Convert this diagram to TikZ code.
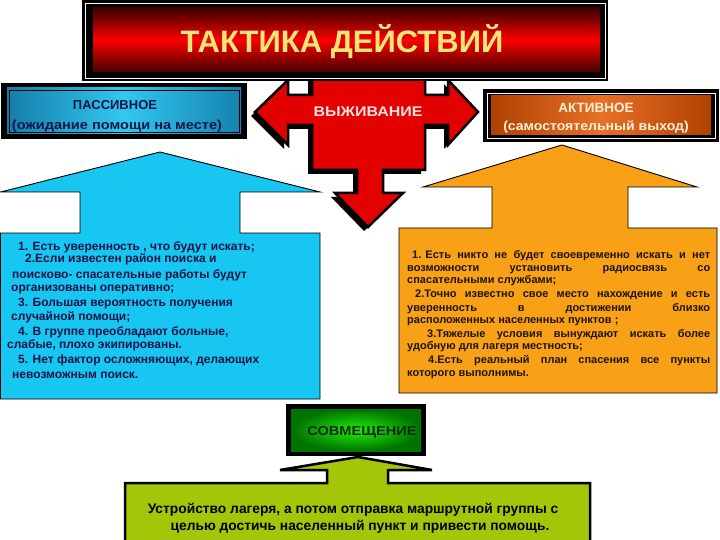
\documentclass[tikz,border=0pt]{standalone}
\usepackage{graphicx}
\usepackage{fontspec}
\setmainfont{Liberation Sans}
\definecolor{cyanf}{RGB}{24,198,242}
\definecolor{orangef}{RGB}{248,160,22}
\definecolor{limef}{RGB}{164,198,8}
\definecolor{redf}{RGB}{226,0,0}
\definecolor{titletxt}{RGB}{245,230,120}
\definecolor{navytxt}{RGB}{20,20,70}
\definecolor{darktxt}{RGB}{30,20,10}
\newcommand{\hs}[2]{\scalebox{#1}[1]{#2}}
\tikzset{
  flatarrow/.style={draw=black, line width=0.9pt, line join=miter},
  ltxt/.style={anchor=base west, inner sep=0pt, font=\fontsize{12}{14}\selectfont\bfseries, text=navytxt},
  otxt/.style={anchor=base west, inner sep=0pt, font=\fontsize{11}{13}\selectfont\bfseries, text=darktxt},
  btxt/.style={anchor=base, inner sep=0pt, font=\fontsize{13.8}{16}\selectfont\bfseries, text=black},
}
\begin{document}
\begin{tikzpicture}[x=1pt,y=-1pt]
\useasboundingbox (0,0) rectangle (720,540);
\fill[white] (0,0) rectangle (720,540);

% cyan arrow
\draw[flatarrow, fill=cyanf] (160,152) -- (320,192) -- (240,192) -- (240,233) -- (320,233) -- (320,399) -- (0.5,399) -- (0.5,233) -- (80,233) -- (80,192) -- (0.5,192) -- cycle;
% orange arrow
\draw[flatarrow, fill=orangef] (562,145) -- (697,187) -- (628,187) -- (628,228) -- (717,228) -- (717,393) -- (399,393) -- (399,228) -- (492,228) -- (492,187) -- (423,187) -- cycle;
% lime arrow
\draw[draw=black, line width=2.5pt, fill=limef] (358,457) -- (432,470) -- (388,470) -- (388,483) -- (590,483) -- (590,545) -- (125,545) -- (125,483) -- (327,483) -- (327,470) -- (280,470) -- cycle;

% green box
\fill[black] (286,404) rectangle (426,456);
\shade[inner color={rgb,255:red,30;green,240;blue,10}, outer color={rgb,255:red,0;green,115;blue,0}] (291,409) rectangle (421,451);
\node[inner sep=0pt, font=\fontsize{13}{15}\selectfont\bfseries, text={rgb,255:red,10;green,40;blue,10}] (sov) at (362,432) {\hs{1.12}{СОВМЕЩЕНИЕ}};

% passive box
\fill[black] (1,83) rectangle (247,139);
\shade[left color={rgb,255:red,20;green,125;blue,170}, right color={rgb,255:red,20;green,130;blue,175}, middle color={rgb,255:red,50;green,200;blue,240}] (7,88) rectangle (241,134);
\draw[black, line width=0.6pt] (9,90) rectangle (239,132);
\node[inner sep=0pt, font=\fontsize{13}{15}\selectfont\bfseries, text=navytxt] (pas1) at (115,105) {ПАССИВНОЕ};
\node[inner sep=0pt, font=\fontsize{13}{15}\selectfont\bfseries, text=navytxt] (pas2) at (117,126) {\hs{1.12}{(ожидание помощи на месте)}};

% active box
\fill[black] (483,89) rectangle (719,142);
\draw[white, line width=0.8pt] (487,93) rectangle (715,138);
\shade[left color={rgb,255:red,175;green,65;blue,0}, right color={rgb,255:red,175;green,65;blue,0}, middle color={rgb,255:red,232;green,112;blue,40}] (491,96) rectangle (711,135);
\node[inner sep=0pt, font=\fontsize{13.5}{15}\selectfont\bfseries, text={rgb,255:red,255;green,240;blue,215}] (act1) at (596,108) {АКТИВНОЕ};
\node[inner sep=0pt, font=\fontsize{13}{15}\selectfont\bfseries, text={rgb,255:red,255;green,240;blue,215}] (act2) at (596,127) {\hs{1.08}{(самостоятельный выход)}};

% central red arrow (shadow + body)
\begin{scope}[shift={(-4,4)}]
\fill[black] (312,75) -- (425,75) -- (425,95) -- (448,95) -- (448,80) -- (478,112) -- (448,145) -- (448,125) -- (425,125) -- (425,170) -- (383,170) -- (383,193) -- (403,193) -- (368,227) -- (335,193) -- (357,193) -- (357,170) -- (312,170) -- (312,125) -- (288,125) -- (288,145) -- (255,112) -- (288,80) -- (288,95) -- (312,95) -- cycle;
\end{scope}
\draw[draw=black, line width=2.5pt, fill=redf, line join=miter] (312,75) -- (425,75) -- (425,95) -- (448,95) -- (448,80) -- (478,112) -- (448,145) -- (448,125) -- (425,125) -- (425,170) -- (383,170) -- (383,193) -- (403,193) -- (368,227) -- (335,193) -- (357,193) -- (357,170) -- (312,170) -- (312,125) -- (288,125) -- (288,145) -- (255,112) -- (288,80) -- (288,95) -- (312,95) -- cycle;
\node[inner sep=0pt, font=\fontsize{14}{16}\selectfont\bfseries, text={rgb,255:red,255;green,225;blue,225}] (surv) at (368,112) {\hs{1.14}{ВЫЖИВАНИЕ}};

% title
\fill[black] (82,0) rectangle (608,81);
\draw[white, line width=0.8pt] (85.5,3) rectangle (605,78);
\shade[top color={rgb,255:red,60;green,0;blue,0}, bottom color={rgb,255:red,70;green,0;blue,0}, middle color={rgb,255:red,250;green,0;blue,0}] (93,8) rectangle (600,72);
\node[inner sep=0pt, font=\fontsize{31}{35}\selectfont\bfseries, text=titletxt] (title) at (342,42) {ТАКТИКА ДЕЙСТВИЙ};

% cyan texts
\node[ltxt] (c1) at (18,250.5) {1. Есть уверенность , что будут искать;};
\node[ltxt] (c2) at (25,262) {2.Если известен район поиска и};
\node[ltxt] (c3) at (12,278.5) {поисково- спасательные работы будут};
\node[ltxt] (c4) at (11,291.5) {организованы оперативно;};
\node[ltxt] (c5) at (18,306.5) {3. Большая вероятность получения};
\node[ltxt] (c6) at (11,320.5) {случайной помощи;};
\node[ltxt] (c7) at (18,335.5) {4. В группе преобладают больные,};
\node[ltxt] (c8) at (7,348.5) {слабые, плохо экипированы.};
\node[ltxt] (c9) at (18,363.5) {5. Нет фактор осложняющих, делающих};
\node[ltxt] (c10) at (12,378.5) {невозможным поиск.};

% orange texts
\node[otxt] (o1) at (412,258.5) {\makebox[298pt][s]{\mbox{1. Есть} никто не будет своевременно искать и нет}};
\node[otxt] (o2) at (407,271) {\makebox[303pt][s]{возможности установить радиосвязь со}};
\node[otxt] (o3) at (407,283) {спасательными службами;};
\node[otxt] (o4) at (415,297.5) {\makebox[295pt][s]{2.Точно известно свое место нахождение и есть}};
\node[otxt] (o5) at (407,311.5) {\makebox[303pt][s]{уверенность в достижении близко}};
\node[otxt] (o6) at (407,323.5) {расположенных населенных пунктов ;};
\node[otxt] (o7) at (427,337) {\makebox[283pt][s]{3.Тяжелые условия вынуждают искать более}};
\node[otxt] (o8) at (407,349) {удобную для лагеря местность;};
\node[otxt] (o9) at (428,363.5) {\makebox[282pt][s]{4.Есть реальный план спасения все пункты}};
\node[otxt] (o10) at (407,376) {которого выполнимы.};

% bottom texts
\node[btxt] (b1) at (353,513) {Устройство лагеря, а потом отправка маршрутной группы с};
\node[btxt] (b2) at (360,530) {целью достичь населенный пункт и привести помощь.};
\end{tikzpicture}
\end{document}
